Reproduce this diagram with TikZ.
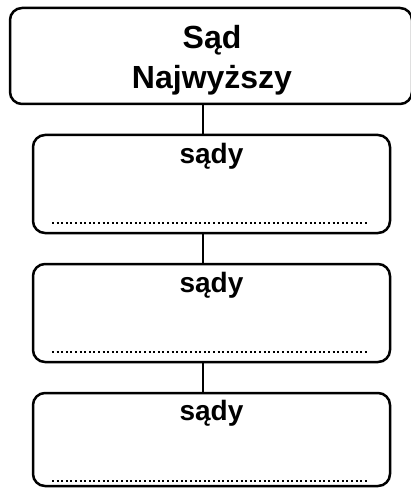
\documentclass[tikz,border=0pt]{standalone}
\usepackage{fontspec}
\setmainfont{Liberation Sans}
\usepackage{tikz}

\begin{document}
\begin{tikzpicture}[x=1pt, y=-1pt, every node/.style={rectangle, inner sep=0pt, outer sep=0pt}]
	\tikzset{court/.style={draw, line width=2.5pt, rounded corners=12pt}}
	\tikzset{dots/.style={line width=2pt, dash pattern=on 2pt off 2.6pt}}
	\useasboundingbox (0,0) rectangle (411,489);
	\node[court, minimum width=402pt, minimum height=96pt] (sn) at (211,56) {};
	\node[align=center, font=\bfseries\fontsize{32}{40}\selectfont] at (212,60) {Sąd\\Najwyższy};
	\node[court, minimum width=357pt, minimum height=98pt] (s1) at (211.5,184)   {};
	\node[court, minimum width=357pt, minimum height=98pt] (s2) at (211.5,313)   {};
	\node[court, minimum width=357pt, minimum height=93pt] (s3) at (211.5,439.5) {};
	\coordinate (axis) at (203,0);
	\foreach \lvl/\up in {s1/21, s2/21, s3/20}
	\node[font=\bfseries\fontsize{28}{32}\selectfont] at ([yshift=-\up pt]\lvl.north) {sądy};
	\foreach \lvl/\gap in {s1/10, s2/10, s3/5}
	\draw[dots] ([xshift=19pt, yshift=\gap pt]\lvl.south west) -- ([xshift=-22pt, yshift=\gap pt]\lvl.south east);
	\foreach \from/\to in {sn/s1, s1/s2, s2/s3}
	\draw[line width=1.5pt] (\from.south -| axis) -- (\to.north -| axis);
\end{tikzpicture}
\end{document}
